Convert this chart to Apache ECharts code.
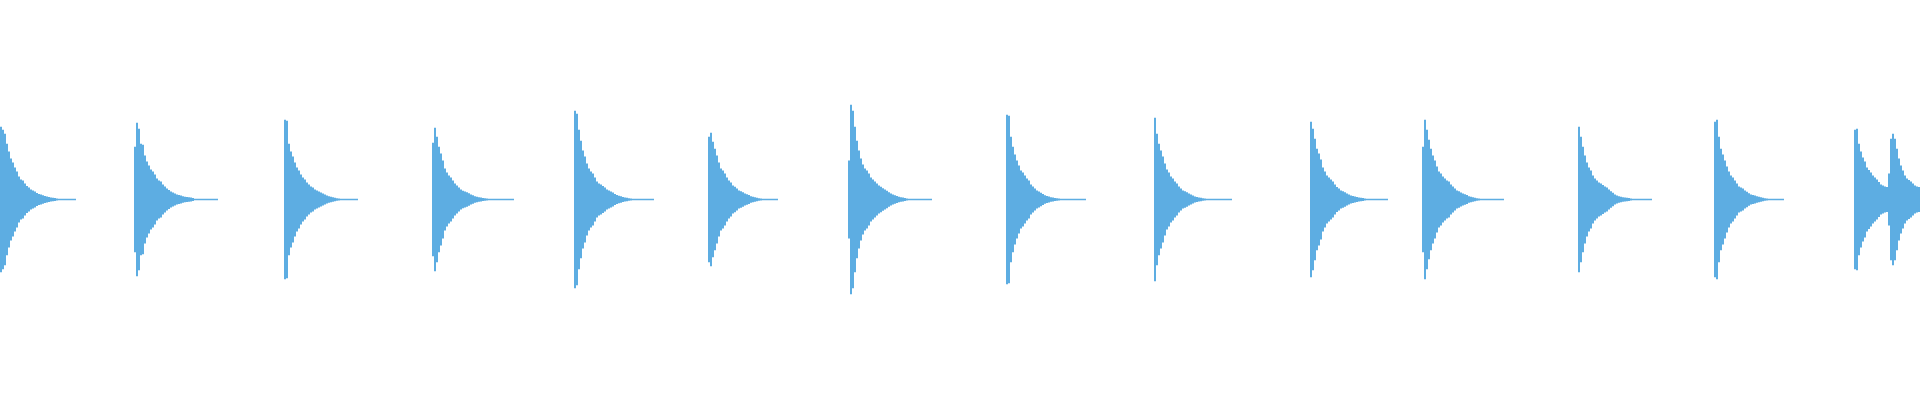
<!DOCTYPE html>
<html>
<head>
<meta charset="utf-8">
<style>
  html, body { margin: 0; padding: 0; background: #fff; }
  #main { width: 1920px; height: 400px; }
</style>
<script src="https://cdn.jsdelivr.net/npm/echarts@6/dist/echarts.min.js"></script>
</head>
<body>
<div id="main"></div>
<script>
// number of bins in the waveform (one bin ~ 2px)
var binCount = 960;

// bin index where each hit starts
var onsets = [0, 67, 142, 216, 287, 354, 424, 503, 577, 655, 711, 789, 857, 927, 944];

// peak amplitude envelope of each hit
var hit01 = [73, 70, 66, 56, 48, 41, 37, 32, 28, 23, 20, 19, 16, 13.5, 12, 10, 9, 8, 6.5, 5.5, 5, 4.3, 3.5, 3, 2.5, 2.1, 1.8, 1.4, 1, 0.8, 0.8, 0.8, 0.8, 0.8, 0.8, 0.8, 0.8, 0.8];
var hit02 = [53, 77, 71, 56, 55, 44, 38, 34, 30, 28, 25, 21, 19, 18, 15, 13, 11, 9.5, 8, 7, 6, 5, 4.5, 4, 3.3, 2.8, 2.5, 2.2, 2, 1.4, 0.8, 0.8, 0.8, 0.8, 0.8, 0.8, 0.8, 0.8, 0.8, 0.8, 0.8, 0.8];
var hit03 = [80, 79, 56, 48, 43, 37, 32, 29, 25, 22, 20, 17, 15, 13, 12, 10, 9, 8, 7, 6, 5, 4, 3.3, 2.8, 2.3, 1.8, 1.3, 1, 0.8, 0.8, 0.8, 0.8, 0.8, 0.8, 0.8, 0.8, 0.8];
var hit04 = [57, 72, 63, 53, 46, 39, 31, 27, 24, 22, 19, 16, 14, 12, 10, 8.7, 8, 7.3, 6.3, 5, 4.3, 3.3, 2.8, 2.2, 1.9, 1.6, 1.3, 1, 0.8, 0.8, 0.8, 0.8, 0.8, 0.8, 0.8, 0.8, 0.8, 0.8, 0.8, 0.8, 0.8];
var hit05 = [89, 86, 70, 59, 49, 43, 36, 31, 28, 26, 22, 18, 16, 15, 13.5, 12, 10, 9, 8, 7, 5.6, 4.6, 3.8, 3.3, 2.6, 2.1, 1.8, 1.3, 1, 0.8, 0.8, 0.8, 0.8, 0.8, 0.8, 0.8, 0.8, 0.8, 0.8, 0.8];
var hit06 = [63, 67, 58, 51, 44, 37, 31, 29, 26, 22, 19, 17, 14, 12.7, 11, 9, 8.3, 7.3, 6, 5.3, 4.5, 3.3, 2.8, 2.3, 1.8, 1.3, 1, 0.8, 0.8, 0.8, 0.8, 0.8, 0.8, 0.8, 0.8];
var hit07 = [39, 95, 89, 73, 59, 49, 41, 35, 31, 29, 26, 22, 20, 18, 16, 14, 12.7, 11.3, 10, 8.7, 7.3, 6, 5, 4.3, 3.5, 2.7, 2.3, 1.9, 1.5, 1.1, 0.8, 0.8, 0.8, 0.8, 0.8, 0.8, 0.8, 0.8, 0.8, 0.8, 0.8, 0.8];
var hit08 = [85, 84, 63, 53, 45, 39, 34, 29, 27, 24, 21, 19, 15, 13, 11, 9, 8, 6.7, 5.5, 4.3, 3.6, 3, 2.3, 1.9, 1.6, 1.3, 1, 0.8, 0.8, 0.8, 0.8, 0.8, 0.8, 0.8, 0.8, 0.8, 0.8, 0.8, 0.8, 0.8];
var hit09 = [82, 66, 56, 49, 43, 36, 30, 27, 23, 21, 18, 16, 13, 11, 9, 8.3, 7.3, 6, 5, 4, 3, 2.5, 2, 1.7, 1.3, 1, 0.8, 0.8, 0.8, 0.8, 0.8, 0.8, 0.8, 0.8, 0.8, 0.8, 0.8, 0.8, 0.8];
var hit10 = [78, 71, 61, 51, 46, 40, 32, 28, 24, 22, 20, 18, 15, 12.5, 11, 9, 8.3, 7.3, 6, 5, 4, 3.5, 3, 2.5, 2, 1.8, 1.5, 1.1, 0.8, 0.8, 0.8, 0.8, 0.8, 0.8, 0.8, 0.8, 0.8, 0.8, 0.8];
var hit11 = [53, 80, 70, 60, 51, 44, 39, 33, 28, 26, 23, 21, 19, 18, 15, 13, 11, 9, 8.3, 7, 6, 5.3, 4.5, 3.3, 2.8, 2.3, 1.8, 1.3, 1, 0.8, 0.8, 0.8, 0.8, 0.8, 0.8, 0.8, 0.8, 0.8, 0.8, 0.8, 0.8];
var hit12 = [73, 63, 53, 44, 37, 32, 29, 24, 21, 19, 17, 16, 14.5, 13, 12, 10, 8.3, 6.7, 5, 4, 3.3, 2.7, 2.3, 2, 1.7, 1.4, 1, 0.8, 0.8, 0.8, 0.8, 0.8, 0.8, 0.8, 0.8, 0.8, 0.8];
var hit13 = [78, 80, 63, 51, 45, 39, 33, 28, 24, 22, 19, 16, 13, 12, 11, 9, 7.7, 6.3, 5, 4.5, 4, 3.3, 2.7, 2.2, 1.7, 1.3, 0.9, 0.8, 0.8, 0.8, 0.8, 0.8, 0.8, 0.8, 0.8];
var hit14 = [70, 71, 56, 48, 42, 38, 32, 29.5, 27, 24, 22, 20, 17.5, 15, 14, 13, 12.5];
var hit15 = [26, 61, 66, 61, 51, 41, 34, 29, 24, 21, 19.5, 18, 16, 14, 13, 12.5];

var hits = [hit01, hit02, hit03, hit04, hit05, hit06, hit07, hit08, hit09, hit10, hit11, hit12, hit13, hit14, hit15];

// lay the hits out on the time axis
var bins = [];
var amp = [];
for (var i = 0; i < binCount; i++) {
  bins.push(i);
  amp.push(0);
}
hits.forEach(function (h, n) {
  for (var k = 0; k < h.length; k++) {
    var idx = onsets[n] + k;
    if (idx < binCount) amp[idx] = h[k];
  }
});
// each bin is drawn as one bar from -amp to +amp (invisible base + full span)
var base = amp.map(function (v) { return -v; });
var span = amp.map(function (v) { return 2 * v; });

var chart = echarts.init(document.getElementById('main'));
var color = '#5dade2';
var option = {
  animation: false,
  grid: { left: 0, right: 0, top: 0, bottom: 1 },
  xAxis: {
    type: 'category',
    data: bins,
    show: false
  },
  yAxis: {
    type: 'value',
    min: -200,
    max: 200,
    show: false
  },
  series: [
    {
      type: 'bar',
      stack: 'wave',
      stackStrategy: 'all',
      data: base,
      barCategoryGap: 0,
      silent: true,
      itemStyle: { color: 'transparent' }
    },
    {
      type: 'bar',
      stack: 'wave',
      stackStrategy: 'all',
      data: span,
      barCategoryGap: 0,
      itemStyle: { color: color }
    }
  ]
};
chart.setOption(option);
</script>
</body>
</html>
